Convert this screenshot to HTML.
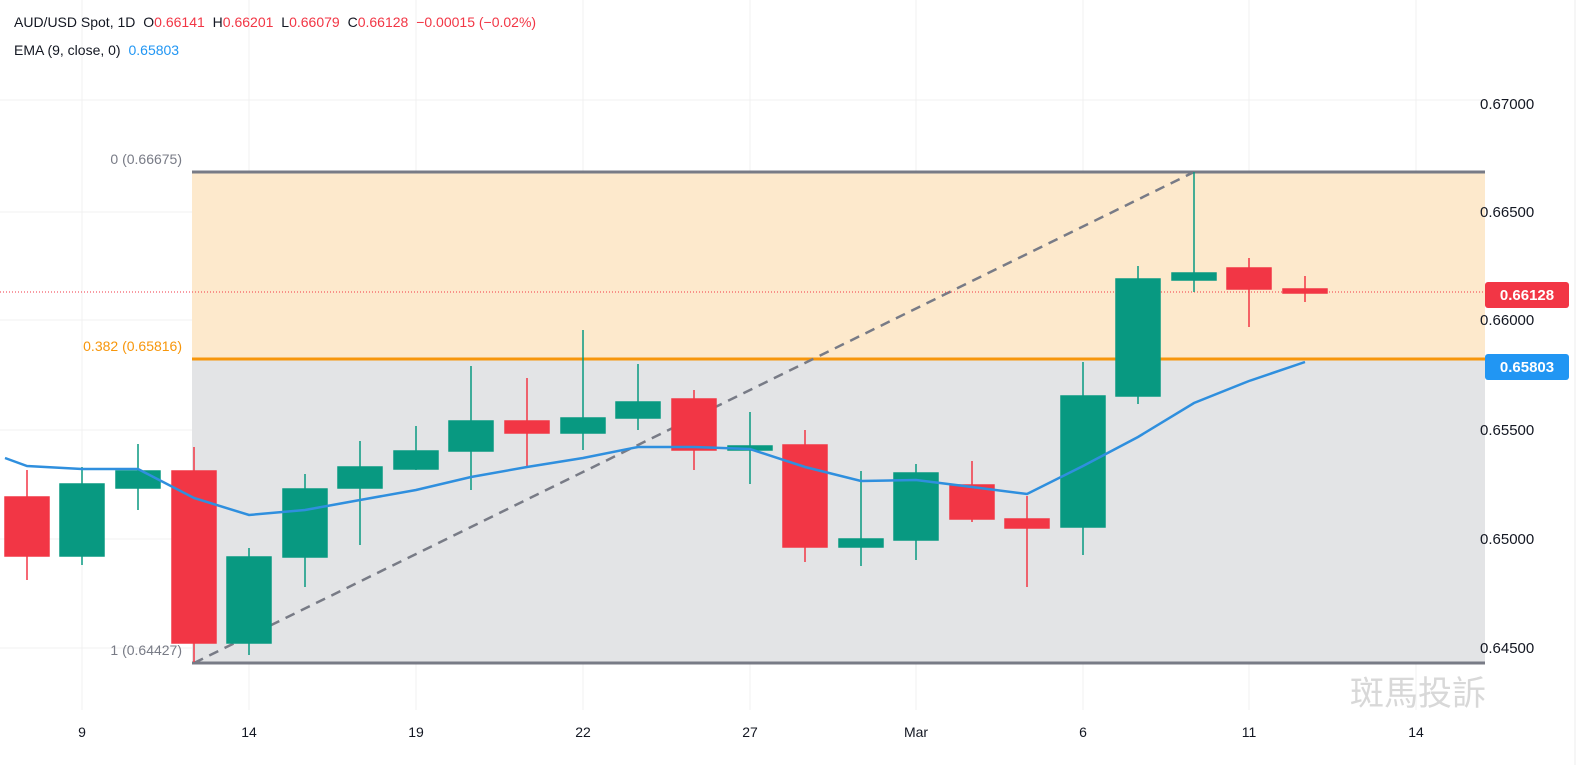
<!DOCTYPE html><html><head><style>body{margin:0;background:#fff}svg{display:block;font-family:"Liberation Sans",sans-serif}</style></head><body>
<svg width="1585" height="765" xmlns="http://www.w3.org/2000/svg">
<rect width="1585" height="765" fill="#fff"/>
<g stroke="#f0f0f0"><line x1="0" y1="100" x2="1485" y2="100"/><line x1="0" y1="212" x2="1485" y2="212"/><line x1="0" y1="320" x2="1485" y2="320"/><line x1="0" y1="430" x2="1485" y2="430"/><line x1="0" y1="539" x2="1485" y2="539"/><line x1="0" y1="648" x2="1485" y2="648"/>
<line x1="82" y1="0" x2="82" y2="710"/><line x1="249" y1="0" x2="249" y2="710"/><line x1="416" y1="0" x2="416" y2="710"/><line x1="583" y1="0" x2="583" y2="710"/><line x1="750" y1="0" x2="750" y2="710"/><line x1="916" y1="0" x2="916" y2="710"/><line x1="1083" y1="0" x2="1083" y2="710"/><line x1="1249" y1="0" x2="1249" y2="710"/><line x1="1416" y1="0" x2="1416" y2="710"/></g>
<rect x="192" y="172" width="1293" height="187" fill="#fde9cc"/>
<rect x="192" y="359" width="1293" height="304" fill="#e3e4e6"/>
<line x1="192" y1="172" x2="1485" y2="172" stroke="#787b86" stroke-width="3"/>
<line x1="192" y1="663" x2="1485" y2="663" stroke="#787b86" stroke-width="3"/>
<line x1="192" y1="359" x2="1485" y2="359" stroke="#f7960b" stroke-width="3"/>
<line x1="194" y1="663" x2="1194" y2="172" stroke="#787b86" stroke-width="2.5" stroke-dasharray="10,7"/>
<line x1="0" y1="292" x2="1485" y2="292" stroke="#f23645" stroke-width="1" stroke-dasharray="1,2"/>
<text x="182" y="164" font-size="14" fill="#787b86" text-anchor="end">0 (0.66675)</text>
<text x="182" y="351" font-size="14" fill="#f7960b" text-anchor="end">0.382 (0.65816)</text>
<text x="182" y="655" font-size="14" fill="#787b86" text-anchor="end">1 (0.64427)</text>
<g stroke-width="1.5">
<g stroke="#f23645" fill="#f23645">
<line x1="27" y1="470" x2="27" y2="580"/><rect x="5" y="497" width="44" height="59"/>
<line x1="194" y1="447" x2="194" y2="662"/><rect x="172" y="471" width="44" height="172"/>
<line x1="527" y1="378" x2="527" y2="466"/><rect x="505" y="421" width="44" height="12"/>
<line x1="694" y1="390" x2="694" y2="470"/><rect x="672" y="399" width="44" height="51"/>
<line x1="805" y1="430" x2="805" y2="562"/><rect x="783" y="445" width="44" height="102"/>
<line x1="972" y1="461" x2="972" y2="522"/><rect x="950" y="485" width="44" height="34"/>
<line x1="1027" y1="496" x2="1027" y2="587"/><rect x="1005" y="519" width="44" height="9"/>
<line x1="1249" y1="258" x2="1249" y2="327"/><rect x="1227" y="268" width="44" height="21"/>
<line x1="1305" y1="276" x2="1305" y2="302"/><rect x="1283" y="289" width="44" height="4"/>
</g>
<g stroke="#089981" fill="#089981">
<line x1="82" y1="467" x2="82" y2="565"/><rect x="60" y="484" width="44" height="72"/>
<line x1="138" y1="444" x2="138" y2="510"/><rect x="116" y="471" width="44" height="17"/>
<line x1="249" y1="548" x2="249" y2="655"/><rect x="227" y="557" width="44" height="86"/>
<line x1="305" y1="474" x2="305" y2="587"/><rect x="283" y="489" width="44" height="68"/>
<line x1="360" y1="441" x2="360" y2="545"/><rect x="338" y="467" width="44" height="21"/>
<line x1="416" y1="426" x2="416" y2="470"/><rect x="394" y="451" width="44" height="18"/>
<line x1="471" y1="366" x2="471" y2="490"/><rect x="449" y="421" width="44" height="30"/>
<line x1="583" y1="330" x2="583" y2="450"/><rect x="561" y="418" width="44" height="15"/>
<line x1="638" y1="364" x2="638" y2="430"/><rect x="616" y="402" width="44" height="16"/>
<line x1="750" y1="412" x2="750" y2="484"/><rect x="728" y="446" width="44" height="4"/>
<line x1="861" y1="471" x2="861" y2="566"/><rect x="839" y="539" width="44" height="8"/>
<line x1="916" y1="464" x2="916" y2="560"/><rect x="894" y="473" width="44" height="67"/>
<line x1="1083" y1="362" x2="1083" y2="555"/><rect x="1061" y="396" width="44" height="131"/>
<line x1="1138" y1="266" x2="1138" y2="404"/><rect x="1116" y="279" width="44" height="117"/>
<line x1="1194" y1="172" x2="1194" y2="292"/><rect x="1172" y="273" width="44" height="7"/>
</g></g>
<polyline fill="none" stroke="#2f8fde" stroke-width="2.5" points="5,458 27,466 82,469 138,469 194,498 249,515 305,510 360,500 416,490 471,477 527,467 583,458 638,447 694,447 750,449 805,467 861,481 916,480 972,487 1027,494 1083,466 1138,437 1194,403 1249,381 1305,362"/>
<line x1="1575" y1="0" x2="1575" y2="765" stroke="#eee"/>
<g font-size="15" fill="#131722">
<text x="1480" y="109">0.67000</text><text x="1480" y="217">0.66500</text><text x="1480" y="325">0.66000</text><text x="1480" y="435">0.65500</text><text x="1480" y="544">0.65000</text><text x="1480" y="653">0.64500</text>
</g>
<rect x="1485" y="282" width="84" height="26" rx="3" fill="#f23645"/><text x="1527" y="300" font-size="15" font-weight="bold" fill="#fff" text-anchor="middle">0.66128</text>
<rect x="1485" y="354" width="84" height="26" rx="3" fill="#2196f3"/><text x="1527" y="372" font-size="15" font-weight="bold" fill="#fff" text-anchor="middle">0.65803</text>
<g font-size="14" fill="#131722" text-anchor="middle">
<text x="82" y="737">9</text><text x="249" y="737">14</text><text x="416" y="737">19</text><text x="583" y="737">22</text><text x="750" y="737">27</text><text x="916" y="737">Mar</text><text x="1083" y="737">6</text><text x="1249" y="737">11</text><text x="1416" y="737">14</text>
</g>
<text x="1350" y="705" font-size="34" fill="#d8d8d8" font-family="'Noto Sans CJK TC',sans-serif">斑馬投訴</text>
<g font-size="14">
<text x="14" y="27" fill="#131722">AUD/USD Spot, 1D <tspan dx="4">O</tspan><tspan fill="#f23645">0.66141</tspan> <tspan dx="4">H</tspan><tspan fill="#f23645">0.66201</tspan> <tspan dx="4">L</tspan><tspan fill="#f23645">0.66079</tspan> <tspan dx="4">C</tspan><tspan fill="#f23645">0.66128</tspan> <tspan dx="4" fill="#f23645">−0.00015 (−0.02%)</tspan></text>
<text x="14" y="55" fill="#131722">EMA (9, close, 0) <tspan dx="4" fill="#2196f3">0.65803</tspan></text>
</g>
</svg></body></html>
